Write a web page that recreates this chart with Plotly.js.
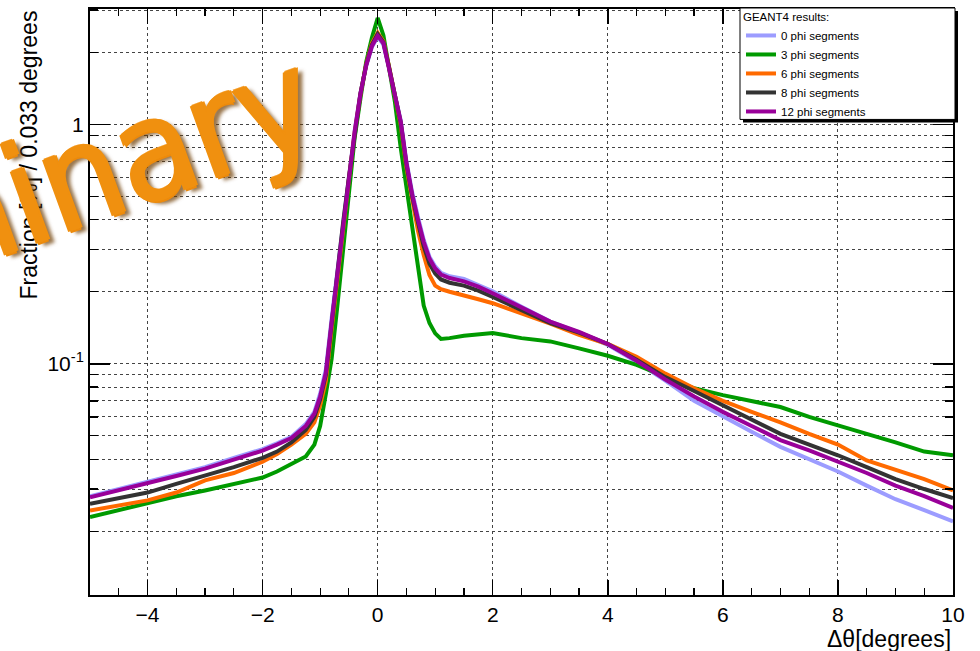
<!DOCTYPE html>
<html>
<head>
<meta charset="utf-8">
<script src="https://cdn.plot.ly/plotly-3.0.1.min.js"></script>
<style>html,body{margin:0;padding:0;background:#fff;}#chart{width:980px;height:651px;}</style>
</head>
<body>
<div id="chart"></div>
<script>
// Delta theta [degrees]
const xs = [-5,-4.5,-4,-3.5,-3,-2.5,-2,-1.75,-1.5,-1.25,-1.1,-1.0,-0.9,-0.8,-0.7,-0.6,-0.5,-0.4,-0.3,-0.2,-0.1,0,0.1,0.2,0.3,0.4,0.5,0.6,0.7,0.8,0.9,1.0,1.1,1.25,1.5,1.75,2.0,2.5,3.0,3.5,4.0,4.5,5.0,5.5,6.0,6.5,7.0,7.5,8.0,8.5,9.0,9.5,10];

const seriesNames = ["0 phi segments","3 phi segments","6 phi segments","8 phi segments","12 phi segments"];

const phi0 = [0.028,0.030,0.032,0.0345,0.037,0.0405,0.044,0.0465,0.0495,0.056,0.063,0.075,0.095,0.155,0.245,0.40,0.61,0.94,1.35,1.75,2.1,2.32,2.15,1.72,1.32,1.04,0.70,0.52,0.41,0.33,0.28,0.255,0.24,0.232,0.226,0.214,0.201,0.173,0.150,0.135,0.120,0.102,0.085,0.070,0.060,0.052,0.045,0.040,0.0355,0.031,0.0272,0.0245,0.022];
const phi3 = [0.0229,0.0245,0.0261,0.028,0.0296,0.0315,0.0335,0.0355,0.038,0.041,0.046,0.055,0.075,0.105,0.175,0.30,0.52,0.88,1.28,1.82,2.3,2.78,2.35,1.72,1.24,0.80,0.55,0.38,0.25,0.175,0.148,0.134,0.127,0.128,0.131,0.133,0.1345,0.128,0.124,0.116,0.108,0.099,0.088,0.079,0.074,0.070,0.066,0.060,0.0555,0.051,0.047,0.043,0.0415];
const phi6 = [0.0244,0.0257,0.0269,0.029,0.0326,0.035,0.039,0.042,0.046,0.051,0.057,0.067,0.085,0.14,0.23,0.38,0.59,0.92,1.33,1.78,2.18,2.41,2.22,1.73,1.3,1.0,0.66,0.48,0.36,0.285,0.235,0.212,0.205,0.2,0.192,0.186,0.179,0.163,0.147,0.132,0.121,0.107,0.091,0.079,0.070,0.063,0.057,0.051,0.046,0.0395,0.036,0.033,0.0296];
const phi8 = [0.026,0.0275,0.029,0.0315,0.034,0.037,0.0405,0.043,0.047,0.053,0.060,0.071,0.09,0.148,0.238,0.39,0.60,0.93,1.34,1.77,2.15,2.38,2.2,1.72,1.30,1.02,0.68,0.50,0.39,0.31,0.262,0.238,0.225,0.218,0.212,0.202,0.19,0.168,0.148,0.135,0.121,0.104,0.088,0.077,0.067,0.058,0.051,0.046,0.0415,0.037,0.033,0.030,0.0275];
const phi12 = [0.0277,0.0296,0.0316,0.034,0.0365,0.040,0.0434,0.046,0.049,0.055,0.062,0.073,0.092,0.15,0.24,0.39,0.60,0.93,1.34,1.76,2.12,2.34,2.18,1.72,1.31,1.03,0.69,0.51,0.40,0.323,0.275,0.25,0.236,0.228,0.221,0.21,0.197,0.171,0.150,0.136,0.121,0.103,0.086,0.073,0.063,0.055,0.048,0.0435,0.039,0.035,0.031,0.028,0.025];

const yTickVals = [0.1, 1];
const yTickText = ["10<sup>-1</sup>", "1"];
const xTickVals = [-4,-2,0,2,4,6,8,10];

const colors = ["#9c9cff","#009a00","#ff6a00","#333333","#990099"];
const ys = [phi0, phi3, phi6, phi8, phi12];

const traces = ys.map((y, i) => ({
  type: "scatter", mode: "lines", name: seriesNames[i],
  x: xs, y: y,
  line: {color: colors[i], width: 4, shape: "linear"}
}));

const FONT = "Liberation Sans, Arial, Helvetica, sans-serif";

// pixel helpers for the legend frame (plot area: x 90..953, y 6..595)
const px2paperX = p => (p - 90) / 863;
const px2paperY = p => (595 - p) / 589;

const layout = {
  width: 980, height: 651,
  margin: {l: 90, r: 27, t: 6, b: 56},
  paper_bgcolor: "#ffffff", plot_bgcolor: "#ffffff",
  font: {family: FONT, color: "#000", size: 21},
  showlegend: true,
  legend: {
    x: px2paperX(741), xanchor: "left", y: px2paperY(3), yanchor: "top",
    bgcolor: "rgba(0,0,0,0)", borderwidth: 0,
    font: {family: FONT, size: 11.5, color: "#000"},
    title: {text: "GEANT4 results:", font: {family: FONT, size: 11.5, color: "#000"}},
    tracegroupgap: 0, itemwidth: 30
  },
  xaxis: {
    range: [-5, 10], type: "linear",
    tickmode: "array", tickvals: xTickVals,
    ticks: "inside", ticklen: 15, tickwidth: 1.5, tickcolor: "#000",
    showline: true, linecolor: "#000", linewidth: 2, mirror: "ticks",
    showgrid: true, gridcolor: "#444", griddash: "dot", gridwidth: 1,
    zeroline: false,
    tickfont: {family: FONT, size: 21, color: "#000"},
    minor: {dtick: 0.5, ticks: "inside", ticklen: 7, tickcolor: "#000", tickwidth: 1.2, showgrid: false}
  },
  yaxis: {
    type: "log", range: [Math.log10(0.01083), Math.log10(3.03)],
    tickmode: "array", tickvals: yTickVals, ticktext: yTickText,
    ticks: "inside", ticklen: 20, tickwidth: 1.5, tickcolor: "#000",
    showline: true, linecolor: "#000", linewidth: 2, mirror: "ticks",
    showgrid: true, gridcolor: "#444", griddash: "dot", gridwidth: 1,
    zeroline: false,
    tickfont: {family: FONT, size: 21, color: "#000"},
    minor: {dtick: "D1", ticks: "inside", ticklen: 8, tickcolor: "#000", tickwidth: 1.2,
            showgrid: true, gridcolor: "#444", griddash: "dot", gridwidth: 1}
  },
  shapes: [
    {type: "rect", xref: "paper", yref: "paper", layer: "above",
     x0: px2paperX(743), x1: px2paperX(958), y0: px2paperY(8), y1: px2paperY(120),
     fillcolor: "#000", line: {width: 0}},
    {type: "rect", xref: "paper", yref: "paper", layer: "above",
     x0: px2paperX(740), x1: px2paperX(955), y0: px2paperY(5), y1: px2paperY(117),
     fillcolor: "#fff", line: {color: "#000", width: 1}}
  ],
  annotations: [
    {text: "Δθ[degrees]", xref: "paper", yref: "paper", x: 1.0, y: -0.05,
     xanchor: "right", yanchor: "top", showarrow: false,
     font: {family: FONT, size: 23, color: "#000"}},
    {text: "Fraction [%] / 0.033 degrees", xref: "paper", yref: "paper",
     x: -0.0718, y: 1.0, xanchor: "center", yanchor: "top", textangle: -90, showarrow: false,
     font: {family: FONT, size: 23, color: "#000"}},
    {text: "Preliminary", xref: "paper", yref: "paper", x: px2paperX(-25), y: px2paperY(213),
     xanchor: "center", yanchor: "middle", textangle: -20, showarrow: false,
     font: {family: "Liberation Sans Narrow, DejaVu Sans Condensed, Open Sans, sans-serif", size: 140,
            color: "#f0900f",
            shadow: "2px 0 0 #f0900f, -2px 0 0 #f0900f, 0 2px 0 #ec8a0c, 0 -1px 0 #f5a030, 5px 5px 4px rgba(110,60,0,0.7)"}}
  ]
};

Plotly.newPlot("chart", traces, layout, {displayModeBar: false, staticPlot: true});
</script>
</body>
</html>
